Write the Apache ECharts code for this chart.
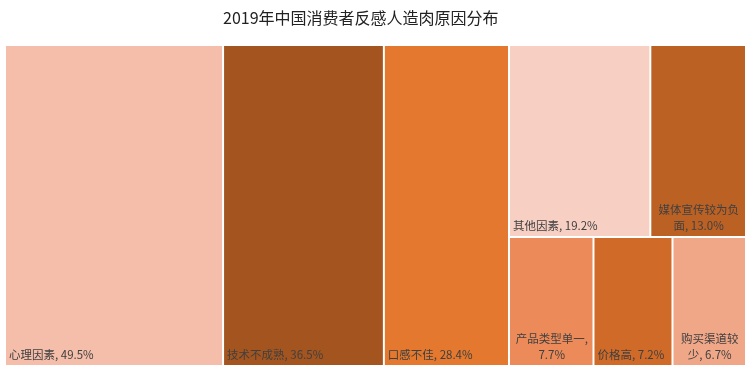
<!DOCTYPE html>
<html>
<head>
<meta charset="utf-8">
<script src="https://cdn.jsdelivr.net/npm/echarts@6/dist/echarts.min.js"></script>
<style>
html,body{margin:0;padding:0;background:#fff;}
#chart{width:750px;height:371px;}
</style>
</head>
<body>
<div id="chart"></div>
<script>
// Data
var titleText = '2019年中国消费者反感人造肉原因分布';
var categories = ['心理因素', '技术不成熟', '口感不佳', '其他因素', '媒体宣传较为负面', '产品类型单一', '价格高', '购买渠道较少'];
var values = [49.5, 36.5, 28.4, 19.2, 13.0, 7.7, 7.2, 6.7];
var colors = ['#F4BEAA', '#A3541F', '#E3782E', '#F7D0C3', '#BC6124', '#EC8B59', '#D06A28', '#F0A788'];
// wrapped label text for narrow cells (null = single line)
var labelTexts = [null, null, null, null, '媒体宣传较为负\n面, 13.0%', '产品类型单一,\n7.7%', null, '购买渠道较\n少, 6.7%'];

function leaf(i) {
  var item = {
    name: categories[i],
    value: values[i],
    itemStyle: { color: colors[i] }
  };
  if (labelTexts[i]) {
    item.label = { formatter: labelTexts[i], position: 'insideBottom', align: 'center' };
  }
  return item;
}
function sum(idx) { var s = 0; idx.forEach(function (i) { s += values[i]; }); return s; }

// nested grouping to reproduce the column/row arrangement
var groupG = { name: 'g', value: sum([3,4,5,6,7]), children: [leaf(3), leaf(4), leaf(5), leaf(6), leaf(7)] };
var groupY = { name: 'y', value: sum([2,3,4,5,6,7]), children: [leaf(2), groupG] };
var groupX = { name: 'x', value: sum([1,2,3,4,5,6,7]), children: [leaf(1), groupY] };
var treeData = [leaf(0), groupX];

var chart = echarts.init(document.getElementById('chart'), null, { renderer: 'canvas' });
chart.setOption({
  animation: false,
  title: {
    text: titleText,
    left: 218,
    top: 5,
    textStyle: { fontFamily: 'Noto Sans CJK SC', fontSize: 16, fontWeight: 'normal', color: '#222' }
  },
  series: [{
    type: 'treemap',
    left: 6,
    top: 46,
    width: 739,
    height: 319,
    roam: false,
    nodeClick: false,
    sort: false,
    squareRatio: 1,
    breadcrumb: { show: false },
    itemStyle: { borderWidth: 0, gapWidth: 2, borderColor: '#fff' },
    label: {
      show: true,
      position: 'insideBottomLeft',
      distance: 0,
      padding: [0, 2, 2, 3],
      overflow: 'none',
      color: '#404040',
      fontFamily: 'Noto Sans CJK SC',
      fontSize: 11.5,
      lineHeight: 16,
      formatter: function (p) { return p.name + ', ' + p.value.toFixed(1) + '%'; }
    },
    upperLabel: { show: false },
    data: treeData
  }]
});
</script>
</body>
</html>
